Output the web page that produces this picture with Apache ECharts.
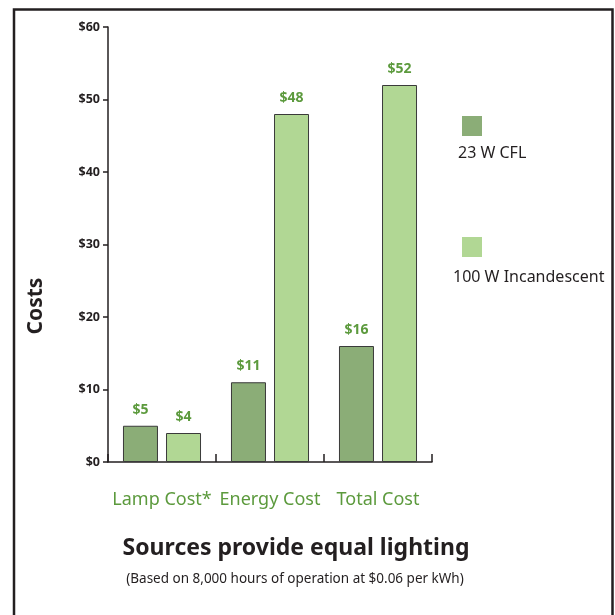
<!DOCTYPE html>
<html>
<head>
<meta charset="utf-8">
<style>
  html, body { margin: 0; padding: 0; background: #ffffff; }
  #chart { width: 615px; height: 615px; }
</style>
<script src="https://cdn.jsdelivr.net/npm/echarts@6/dist/echarts.min.js"></script>
</head>
<body>
<div id="chart"></div>
<script>
// Cost comparison of a compact fluorescent lamp and an incandescent bulb
const categories = ['Lamp Cost*', 'Energy Cost', 'Total Cost'];
const cflCosts = [5, 11, 16];
const incandescentCosts = [4, 48, 52];
const seriesNames = ['23 W CFL', '100 W Incandescent'];
const yTicks = [0, 10, 20, 30, 40, 50, 60];

const FONT = '"Noto Sans", sans-serif';
const INK = '#231f20';
const GREEN_TEXT = '#5c9a3d';
const CFL_COLOR = '#8bad77';
const INC_COLOR = '#b1d794';

const chart = echarts.init(document.getElementById('chart'), null, { renderer: 'canvas' });

const barLabel = {
  show: true,
  position: 'top',
  distance: 9,
  color: GREEN_TEXT,
  fontFamily: FONT,
  fontWeight: 'bold',
  fontSize: 14,
  formatter: p => '$' + p.value
};

chart.setOption({
  animation: false,
  textStyle: { fontFamily: FONT },
  grid: { left: 108, right: 183, top: 27, bottom: 153 },
  title: [
    {
      text: 'Sources provide equal lighting',
      left: 291, top: 532, textAlign: 'center',
      textStyle: { fontFamily: FONT, fontWeight: 'bold', fontSize: 23, color: INK }
    },
    {
      text: '(Based on 8,000 hours of operation at $0.06 per kWh)',
      left: 290, top: 567, textAlign: 'center',
      textStyle: { fontFamily: FONT, fontWeight: 'normal', fontSize: 13.5, color: INK }
    }
  ],
  legend: [
    {
      data: [seriesNames[0]], left: 457, top: 111, itemWidth: 20, itemHeight: 20,
      icon: 'rect', formatter: () => '', selectedMode: false, itemStyle: { borderWidth: 0 }
    },
    {
      data: [seriesNames[1]], left: 457, top: 232, itemWidth: 20, itemHeight: 20,
      icon: 'rect', formatter: () => '', selectedMode: false, itemStyle: { borderWidth: 0 }
    }
  ],
  xAxis: {
    type: 'category',
    data: categories,
    axisLine: { lineStyle: { color: INK, width: 1.5 } },
    axisTick: { show: true, inside: true, length: 8, interval: 0, lineStyle: { color: INK, width: 1.5 } },
    axisLabel: { interval: 0, hideOverlap: false, margin: 29, color: GREEN_TEXT, fontFamily: FONT, fontSize: 18 }
  },
  yAxis: {
    type: 'value',
    min: 0, max: 60, interval: 10,
    axisLine: { show: true, lineStyle: { color: INK, width: 1.5 } },
    axisTick: { show: true, length: 5, lineStyle: { color: INK, width: 1.5 } },
    splitLine: { show: false },
    axisLabel: {
      margin: 8, color: INK, fontFamily: FONT, fontWeight: 'bold', fontSize: 12.5,
      formatter: v => yTicks.includes(v) ? '$' + v : ''
    }
  },
  series: [
    {
      name: seriesNames[0], type: 'bar', data: cflCosts,
      barWidth: 35, barGap: '23%',
      itemStyle: { color: CFL_COLOR, borderColor: '#3a3a3a', borderWidth: 1 },
      label: barLabel
    },
    {
      name: seriesNames[1], type: 'bar', data: incandescentCosts,
      barWidth: 35,
      itemStyle: { color: INC_COLOR, borderColor: '#3a3a3a', borderWidth: 1 },
      label: barLabel
    }
  ],
  graphic: [
    // frame around the figure (open at the bottom)
    {
      type: 'polyline', silent: true,
      shape: { points: [[14, 615], [14, 9.5], [612.5, 9.5], [612.5, 615]] },
      style: { fill: null, stroke: INK, lineWidth: 2.5 }
    },
    // vertical axis title
    {
      type: 'text', x: 36, y: 306, rotation: Math.PI / 2,
      style: {
        text: 'Costs', fontFamily: FONT, fontWeight: 'bold', fontSize: 21, fill: INK,
        align: 'center', verticalAlign: 'middle'
      }
    },
    // legend captions sit under their swatches
    {
      type: 'text', left: 458, top: 145,
      style: { text: seriesNames[0], fontFamily: FONT, fontSize: 16, fill: INK }
    },
    {
      type: 'text', left: 453, top: 269,
      style: { text: seriesNames[1], fontFamily: FONT, fontSize: 16, fill: INK }
    }
  ]
});
</script>
</body>
</html>
